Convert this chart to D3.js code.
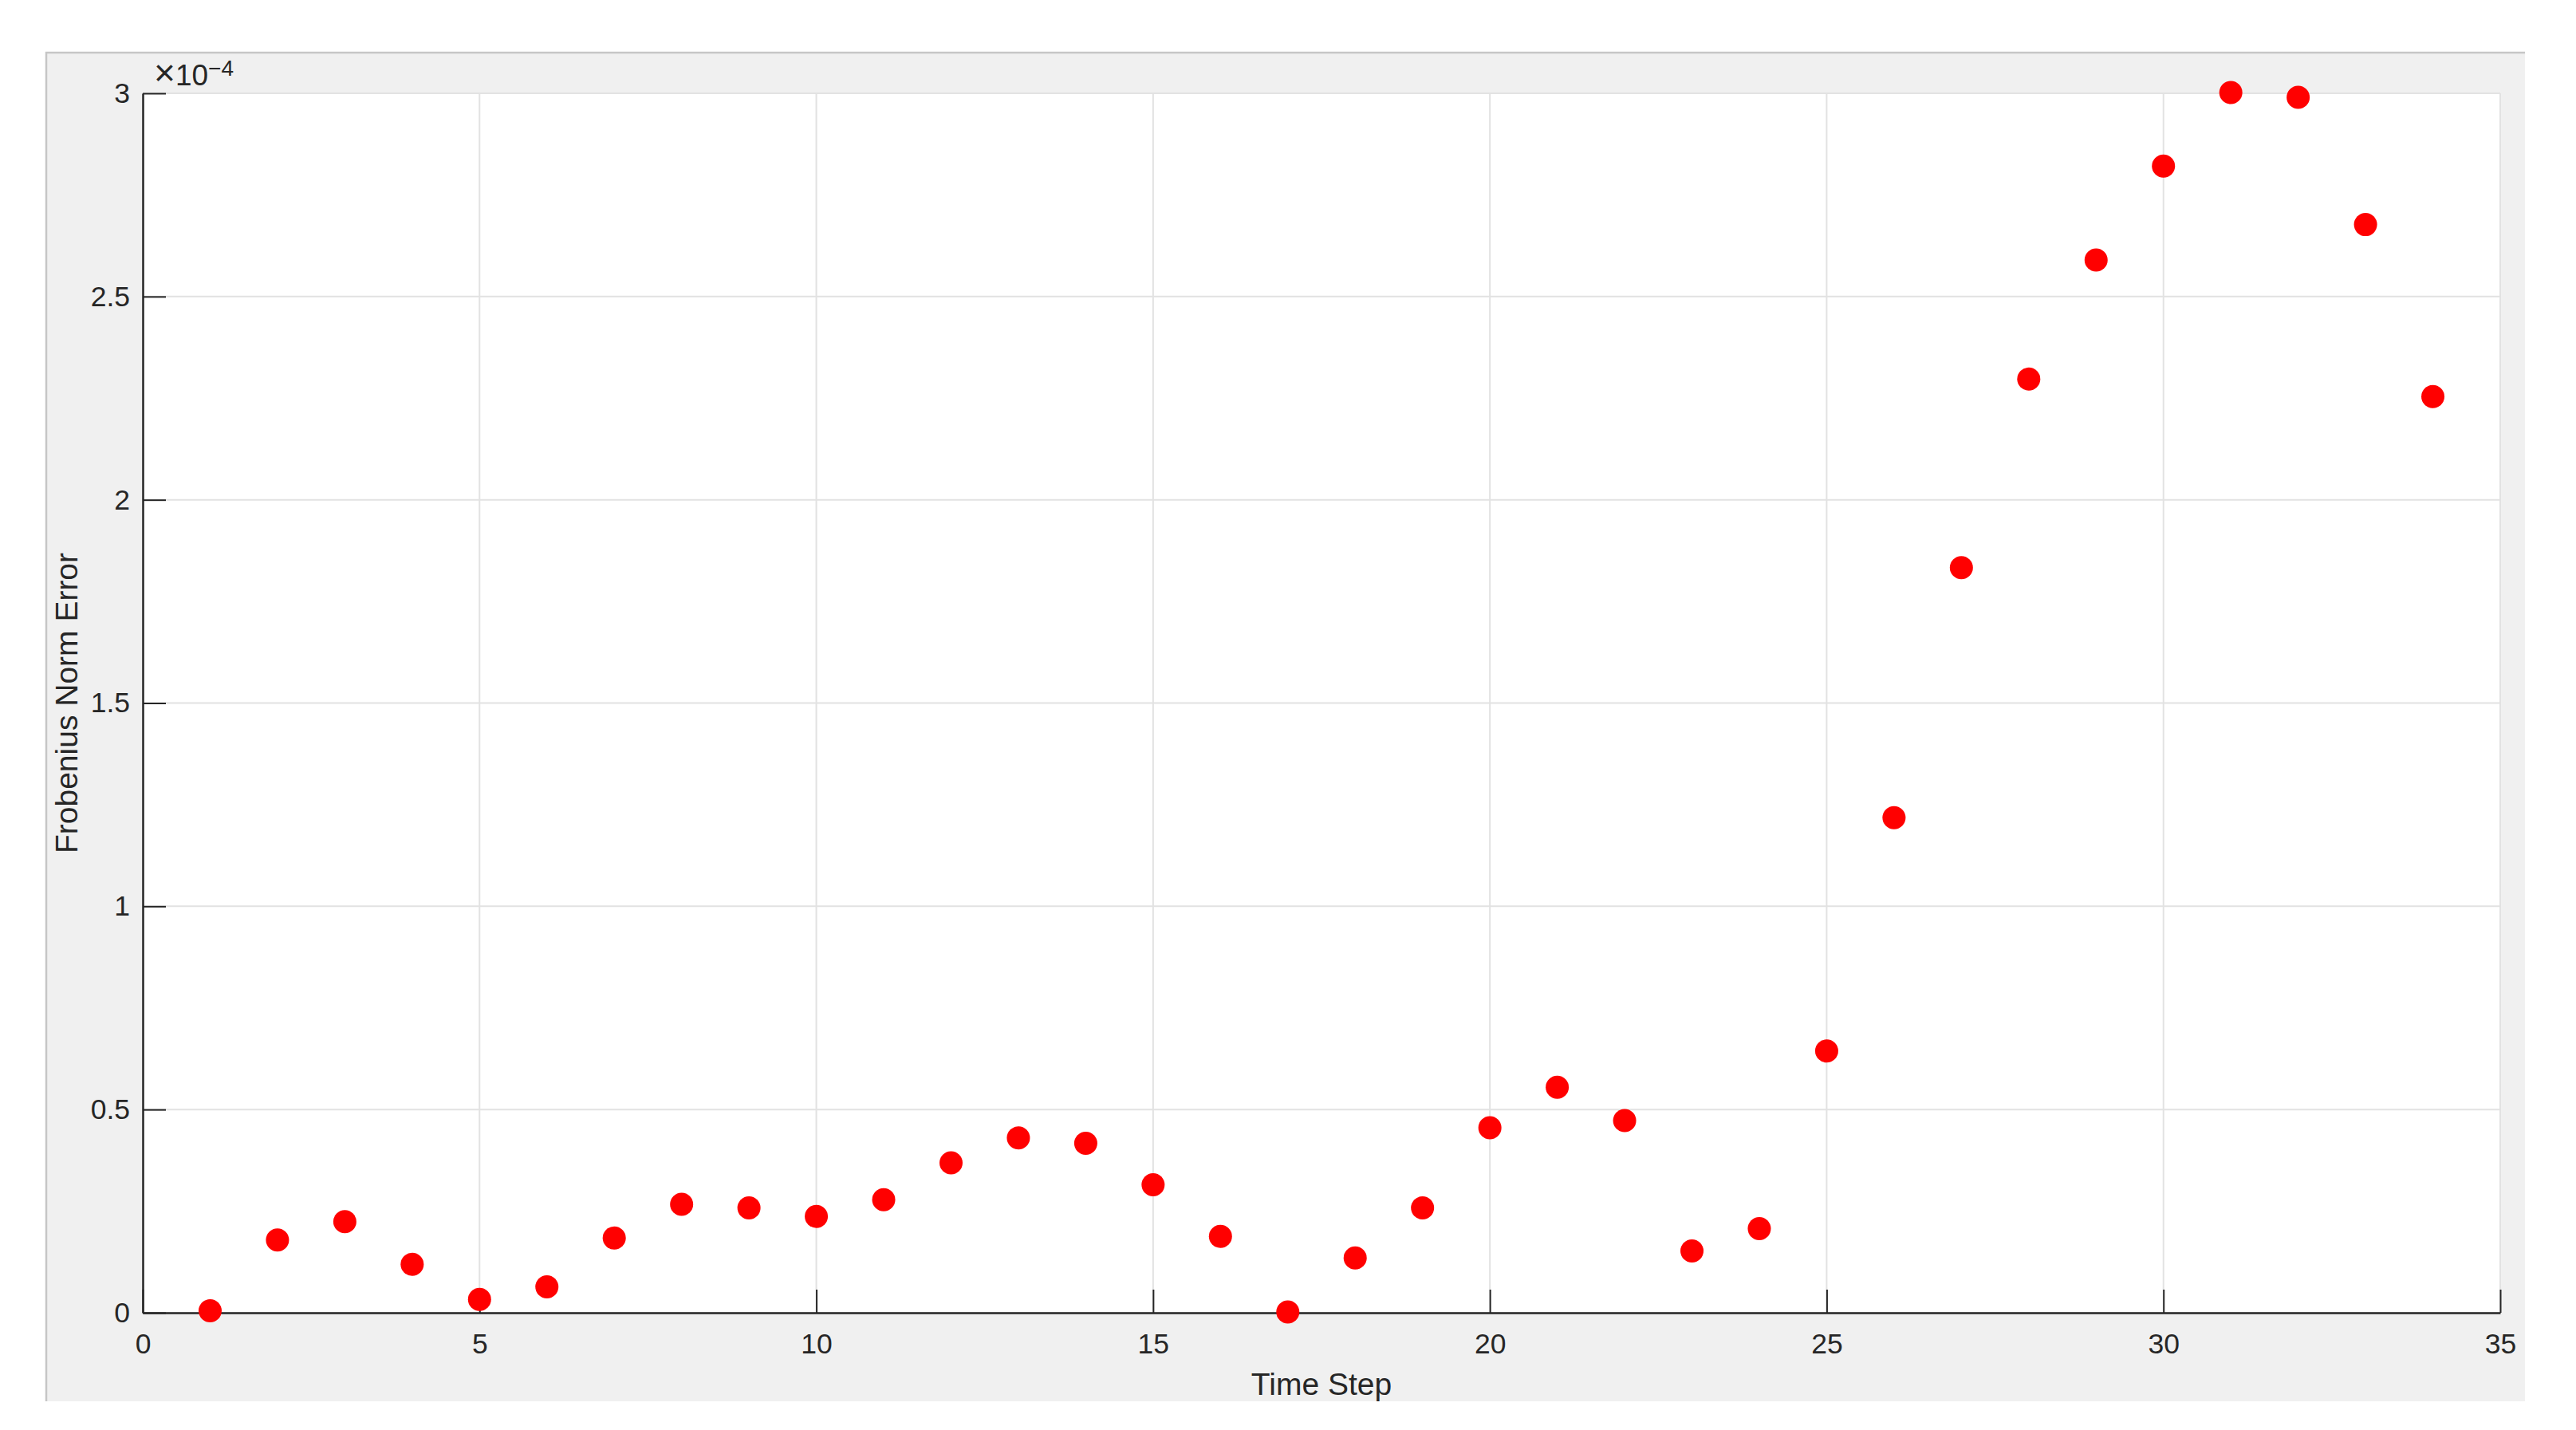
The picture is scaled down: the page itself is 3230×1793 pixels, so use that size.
<!DOCTYPE html>
<html>
<head>
<meta charset="utf-8">
<script src="https://cdn.jsdelivr.net/npm/d3@7"></script>
<style>
    html, body { margin: 0; padding: 0; background: #ffffff; }
    svg { display: block; font-family: "Liberation Sans", Arial, sans-serif; }
</style>
</head>
<body>
<div id="chart"></div>
<script>
// time steps on the x axis
const timeSteps = [1, 2, 3, 4, 5, 6, 7, 8, 9, 10, 11, 12, 13, 14, 15, 16, 17,
    18, 19, 20, 21, 22, 23, 24, 25, 26, 27, 28, 29, 30, 31, 32, 33, 34];

// frobenius norm error (x 1e-4)
const errors = [0.005e-4, 0.179e-4, 0.224e-4, 0.119e-4, 0.033e-4, 0.064e-4, 0.184e-4,
    0.267e-4, 0.258e-4, 0.237e-4, 0.278e-4, 0.369e-4, 0.430e-4, 0.417e-4, 0.315e-4,
    0.188e-4, 0.002e-4, 0.135e-4, 0.258e-4, 0.455e-4, 0.555e-4, 0.473e-4, 0.152e-4,
    0.207e-4, 0.644e-4, 1.218e-4, 1.833e-4, 2.297e-4, 2.590e-4, 2.821e-4, 3.002e-4,
    2.990e-4, 2.677e-4, 2.254e-4];

// ticks
const xTicks = [0, 5, 10, 15, 20, 25, 30, 35];
const yTicks = [0, 0.5e-4, 1e-4, 1.5e-4, 2e-4, 2.5e-4, 3e-4];
const yTickLabels = ['0', '0.5', '1', '1.5', '2', '2.5', '3'];

const W = 3230, H = 1793;
// plot box in page pixels
const margin = {top: 117, right: 95, bottom: 147, left: 179};
const width = W - margin.left - margin.right;
const height = H - margin.top - margin.bottom;

const axisColor = '#262626';

let svg = d3.select('#chart').append('svg')
    .attr('width', W)
    .attr('height', H);

// grey figure background with its top / left edge
svg.append('rect')
    .attr('x', 57).attr('y', 65)
    .attr('width', 3166 - 57).attr('height', 1757 - 65)
    .attr('fill', '#f0f0f0');
svg.append('line')
    .attr('x1', 57).attr('x2', 3166).attr('y1', 66).attr('y2', 66)
    .attr('stroke', '#c6c6c6').attr('stroke-width', 2.5);
svg.append('line')
    .attr('x1', 58).attr('x2', 58).attr('y1', 65).attr('y2', 1757)
    .attr('stroke', '#c6c6c6').attr('stroke-width', 2.5);

let g = svg.append('g')
    .attr('transform', 'translate(' + margin.left + ',' + margin.top + ')');

// scales
let x = d3.scaleLinear().domain([0, 35]).range([0, width]);
let y = d3.scaleLinear().domain([0, 3e-4]).range([height, 0]);

// white axes area
g.append('rect')
    .attr('width', width).attr('height', height)
    .attr('fill', '#ffffff');

// grid
g.append('g').selectAll('line')
    .data(xTicks)
    .join('line')
    .attr('x1', d => x(d)).attr('x2', d => x(d))
    .attr('y1', 0).attr('y2', height)
    .attr('stroke', '#e2e2e2').attr('stroke-width', 2);
g.append('g').selectAll('line')
    .data(yTicks)
    .join('line')
    .attr('x1', 0).attr('x2', width)
    .attr('y1', d => y(d)).attr('y2', d => y(d))
    .attr('stroke', '#e2e2e2').attr('stroke-width', 2);

// x axis
let xAxis = g.append('g')
    .attr('transform', 'translate(0,' + height + ')')
    .call(d3.axisBottom(x).tickValues(xTicks).tickSize(-29).tickSizeOuter(0).tickPadding(26));

// y axis
let yAxis = g.append('g')
    .call(d3.axisLeft(y).tickValues(yTicks).tickSize(-29).tickSizeOuter(0).tickPadding(16)
        .tickFormat((d, i) => yTickLabels[i]));

[xAxis, yAxis].forEach(a => {
    a.select('.domain').attr('stroke', axisColor).attr('stroke-width', 2.5);
    a.selectAll('.tick line').attr('stroke', axisColor).attr('stroke-width', 2);
    a.selectAll('.tick text')
        .attr('fill', axisColor)
        .attr('font-size', 35.5)
        .attr('font-family', '"Liberation Sans", Arial, sans-serif');
});

// exponent label
let expLabel = g.append('text')
    .attr('x', 14).attr('y', -10)
    .attr('fill', axisColor)
    .attr('font-size', 37);
expLabel.append('tspan').text('\u00d7').attr('font-size', 46);
expLabel.append('tspan').text('10');
expLabel.append('tspan').text('\u22124').attr('font-size', 28).attr('dy', -12);

// axis labels
g.append('text')
    .attr('x', width / 2).attr('y', 1749 - margin.top)
    .attr('text-anchor', 'middle')
    .attr('fill', axisColor)
    .attr('font-size', 39)
    .text('Time Step');

g.append('text')
    .attr('transform', 'translate(' + (97 - margin.left) + ',' + (height / 2) + ') rotate(-90)')
    .attr('text-anchor', 'middle')
    .attr('fill', axisColor)
    .attr('font-size', 39)
    .text('Frobenius Norm Error');

// markers
g.append('g').selectAll('circle')
    .data(timeSteps)
    .join('circle')
    .attr('cx', d => x(d))
    .attr('cy', (d, i) => y(errors[i]))
    .attr('r', 14.5)
    .attr('fill', '#ff0000');
</script>
</body>
</html>
